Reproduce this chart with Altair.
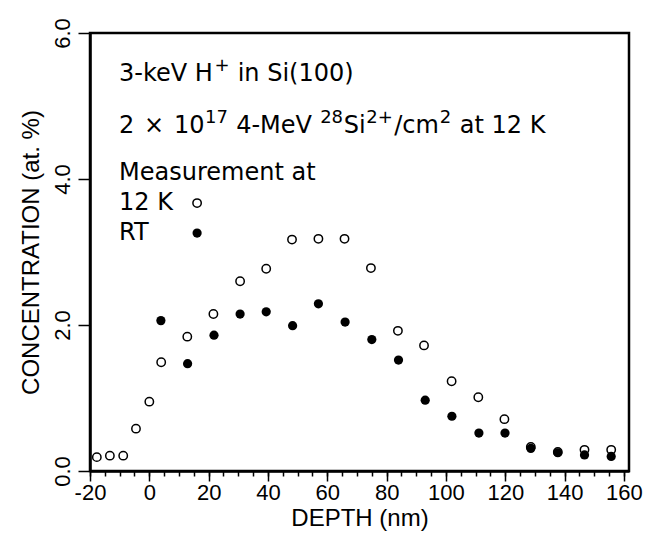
import altair as alt
import pandas as pd

# Measurement at 12 K (open circles)
depth_12k = [-17.7, -13.3, -8.8, -4.5, 0.0, 4.0, 12.8, 21.6, 30.6, 39.4, 48.1, 57.0,
             65.8, 74.7, 83.8, 92.6, 101.9, 110.9, 119.7, 128.6, 137.7, 146.7, 155.7]
conc_12k = [0.19, 0.21, 0.21, 0.58, 0.95, 1.49, 1.84, 2.15, 2.60, 2.77, 3.17, 3.18,
            3.18, 2.78, 1.92, 1.72, 1.23, 1.01, 0.71, 0.33, 0.26, 0.29, 0.29]

# Measurement at RT (filled circles)
depth_rt = [3.9, 12.9, 21.8, 30.6, 39.4, 48.3, 57.0, 66.0, 75.0, 84.0, 93.0, 102.0,
            111.1, 119.9, 128.6, 137.7, 146.7, 155.7]
conc_rt = [2.06, 1.47, 1.86, 2.15, 2.18, 1.99, 2.29, 2.04, 1.80, 1.52, 0.97, 0.75,
           0.52, 0.52, 0.31, 0.25, 0.22, 0.20]

x_major = [-20, 0, 20, 40, 60, 80, 100, 120, 140, 160]
x_minor = list(range(-20, 161, 5))
y_ticks = [0, 2, 4, 6]

# annotation text pieces: text, x (depth units), baseline (conc units), font size
note_text = ["3-keV H", "+", "in Si(100)",
             "2", "\u00d7", "10", "17", "4-MeV", "28", "Si", "2+", "/cm", "2", "at 12 K",
             "Measurement at", "12 K", "RT"]
note_x = [-10.2, 22.0, 29.77,
          -10.2, -1.77, 8.35, 18.8, 29.26, 57.59, 65.52, 73.11, 82.55, 97.9, 104.64,
          -10.2, -10.2, -10.2]
note_y = [5.34, 5.48, 5.34,
          4.63, 4.63, 4.63, 4.77, 4.63, 4.77, 4.63, 4.77, 4.63, 4.77, 4.63,
          3.99, 3.58, 3.16]
note_size = [24, 18, 24,
             24, 24, 24, 18, 24, 18, 24, 18, 24, 18, 24,
             24, 24, 24]

legend_x = [16.1, 16.1]
legend_y = [3.67, 3.26]
legend_kind = ["12 K", "RT"]

df12 = pd.DataFrame({"depth": depth_12k, "conc": conc_12k})
dfrt = pd.DataFrame({"depth": depth_rt, "conc": conc_rt})
dfnote = pd.DataFrame({"x": note_x, "y": note_y, "t": note_text, "s": note_size})
dfleg = pd.DataFrame({"x": legend_x, "y": legend_y, "k": legend_kind})

xs = alt.Scale(domain=[-20, 161.7], nice=False, zero=False)
ys = alt.Scale(domain=[0, 6], nice=False, zero=True)

AX_FONT = "Liberation Sans"

open_pts = alt.Chart(df12).mark_point(
    shape="circle", filled=False, stroke="black", strokeWidth=1.5, size=70, opacity=1
).encode(
    x=alt.X("depth:Q", scale=xs, axis=alt.Axis(
        orient="bottom", values=x_major, tickSize=10, tickWidth=1.5, tickColor="black",
        domainColor="black", domainWidth=2.5, labelFont=AX_FONT, labelFontSize=22,
        labelColor="black", labelPadding=1, labelFlush=False,
        labelExpr="datum.value + ''",
        title="DEPTH (nm)", titleFont=AX_FONT, titleFontSize=24, titleFontWeight="normal",
        titleColor="black", titlePadding=3, grid=False)),
    y=alt.Y("conc:Q", scale=ys, axis=alt.Axis(
        orient="left", values=y_ticks, format=".1f", tickSize=12, tickWidth=1.5,
        tickColor="black", domainColor="black", domainWidth=2.5, labelFont=AX_FONT,
        labelFontSize=22, labelColor="black", labelAngle=270, labelPadding=4,
        labelFlush=False, title="CONCENTRATION (at. %)", titleFont=AX_FONT,
        titleFontSize=24, titleFontWeight="normal", titleColor="black",
        titlePadding=8, grid=False)),
)

filled_pts = alt.Chart(dfrt).mark_circle(size=85, color="black", opacity=1).encode(
    x=alt.X("depth:Q", scale=xs, axis=alt.Axis(
        orient="bottom", values=x_minor, tickSize=5, tickWidth=1.5, tickColor="black",
        labels=False, domain=False, title=None, grid=False)),
    y=alt.Y("conc:Q", scale=ys, axis=None),
)

text = alt.Chart(dfnote).mark_text(
    align="left", baseline="alphabetic", font="DejaVu Sans", color="black"
).encode(
    x=alt.X("x:Q", scale=xs, axis=None),
    y=alt.Y("y:Q", scale=ys, axis=None),
    text="t:N",
    size=alt.Size("s:Q", scale=None, legend=None),
)

leg_open = alt.Chart(dfleg[dfleg.k == "12 K"]).mark_point(
    shape="circle", filled=False, stroke="black", strokeWidth=1.5, size=70, opacity=1
).encode(x=alt.X("x:Q", scale=xs, axis=None), y=alt.Y("y:Q", scale=ys, axis=None))
leg_fill = alt.Chart(dfleg[dfleg.k == "RT"]).mark_circle(
    size=85, color="black", opacity=1
).encode(x=alt.X("x:Q", scale=xs, axis=None), y=alt.Y("y:Q", scale=ys, axis=None))

chart = alt.layer(open_pts, filled_pts, text, leg_open, leg_fill).resolve_axis(
    x="independent", y="independent"
).properties(
    width=539, height=438,
    autosize=alt.AutoSizeParams(type="none"),
    padding={"left": 82, "top": 25, "right": 15, "bottom": 62},
    background="white",
).configure_view(stroke="black", strokeWidth=2.5)

chart.save("out.html", embed_options={"renderer": "svg", "actions": False})
